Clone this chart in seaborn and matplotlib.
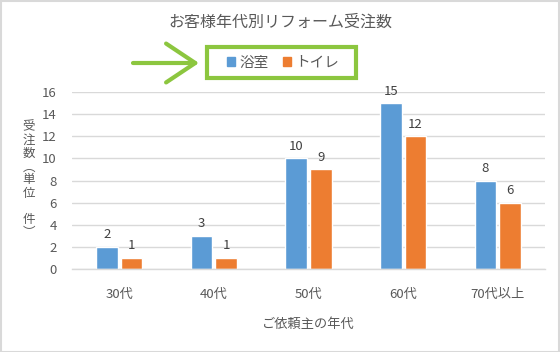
import pandas as pd
import matplotlib.pyplot as plt
import seaborn as sns
from matplotlib.patches import Rectangle

ages = ["30代", "40代", "50代", "60代", "70代以上"]
bath = [2, 3, 10, 15, 8]
toilet = [1, 1, 9, 12, 6]
series_names = ["浴室", "トイレ"]
colors = ["#5B9BD5", "#ED7D31"]
y_ticks = [0, 2, 4, 6, 8, 10, 12, 14, 16]

df = pd.DataFrame(
    {
        "age": ages * 2,
        "count": bath + toilet,
        "kind": [series_names[0]] * len(ages) + [series_names[1]] * len(ages),
    }
)

sns.set_style("white")
plt.rcParams["font.family"] = ["Noto Sans CJK JP", "DejaVu Sans"]

text_gray = "#595959"
grid_gray = "#D9D9D9"
green = "#8CC63F"

fig = plt.figure(figsize=(5.6, 3.52), dpi=100)
ax = fig.add_axes([72 / 560, 1 - 269 / 352, 473 / 560, 177 / 352])

sns.barplot(
    df,
    x="age",
    y="count",
    hue="kind",
    palette=dict(zip(series_names, colors)),
    order=ages,
    hue_order=series_names,
    width=0.52,
    gap=0.12,
    ax=ax,
    legend=False,
    saturation=1,
    errorbar=None,
)

for cont in ax.containers:
    ax.bar_label(cont, padding=4, fontsize=9.5, color="#404040")

ax.set_ylim(0, 16)
ax.set_xlim(-0.5, 4.5)
ax.set_yticks(y_ticks)
ax.yaxis.grid(True, color=grid_gray, linewidth=1)
ax.set_axisbelow(True)
for side in ["top", "right", "left"]:
    ax.spines[side].set_visible(False)
ax.spines["bottom"].set_color(grid_gray)
ax.spines["bottom"].set_linewidth(1)
ax.tick_params(axis="both", length=0, colors=text_gray, labelsize=9.5)
ax.tick_params(axis="x", pad=14)
ax.tick_params(axis="y", pad=11)
ax.set_xlabel("ご依頼主の年代", color=text_gray, fontsize=9.5, labelpad=12)
ax.set_ylabel("")

fig.text(
    29 / 560,
    1 - 180 / 352,
    "\n".join("受注数︵単位　件︶"),
    ha="center",
    va="center",
    fontsize=9,
    color=text_gray,
    linespacing=1.02,
)

fig.text(0.5, 1 - 22 / 352, "お客様年代別リフォーム受注数", ha="center", va="center",
         fontsize=11.5, color=text_gray)

# legend without its own frame, the green box is drawn separately
handles = [Rectangle((0, 0), 1, 1, color=c) for c in colors]
leg = fig.legend(
    handles,
    series_names,
    loc="center",
    bbox_to_anchor=(283 / 560, 1 - 63 / 352),
    ncol=2,
    frameon=False,
    fontsize=10.5,
    handlelength=0.55,
    handleheight=0.55,
    handletextpad=0.3,
    columnspacing=1.0,
    borderaxespad=0,
    labelcolor=text_gray,
)

fig.patches.append(
    Rectangle((207 / 560, 1 - 78 / 352), 149 / 560, 31 / 352,
              transform=fig.transFigure, fill=False, edgecolor=green, linewidth=3)
)

fig.patches.append(
    Rectangle((0.001, 0.001), 0.997, 0.996, transform=fig.transFigure,
              fill=False, edgecolor=grid_gray, linewidth=1.5)
)

ax.annotate(
    "",
    xy=(199 / 560, 1 - 63 / 352),
    xytext=(133 / 560, 1 - 63 / 352),
    xycoords="figure fraction",
    textcoords="figure fraction",
    arrowprops=dict(arrowstyle="->, head_length=1.5, head_width=1.0",
                    color=green, linewidth=3, mutation_scale=14,
                    shrinkA=0, shrinkB=0),
)

plt.savefig("out.png", dpi=100)
